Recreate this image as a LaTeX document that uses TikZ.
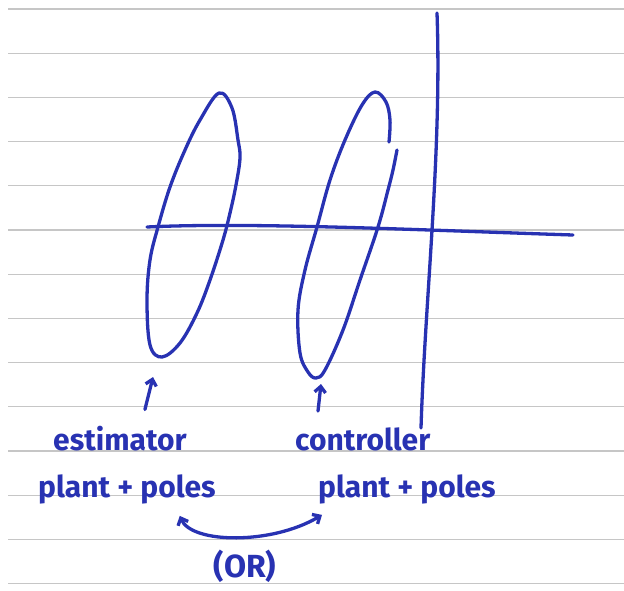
\documentclass[tikz,border=0pt]{standalone}
\usepackage{fontspec}
\setmainfont{Fira Sans}
\usetikzlibrary{positioning,arrows.meta}
\definecolor{pen}{RGB}{40,50,178}
\definecolor{ruling}{RGB}{198,198,198}

\begin{document}
\begin{tikzpicture}[
  x=1pt,y=-1pt,
  ink/.style={draw=pen,line width=3.3pt,line cap=round,line join=round},
  arr/.style={ink,-{Straight Barb[length=6pt,width=11pt]}},
  twoway/.style={ink,{Straight Barb[length=6pt,width=11pt]}-{Straight Barb[length=6pt,width=11pt]}},
  lbl/.style={text=pen,font=\fontsize{30}{32}\selectfont\bfseries,inner sep=0pt,anchor=base west}
]
\useasboundingbox (0,0) rectangle (624,590);

% ruled paper
\foreach \k in {0,...,13}
  \draw[ruling,line width=1.2pt] (8,{9+44.2*\k}) -- (624,{9+44.2*\k});

% axes
\draw[ink] (147,227) .. controls (250,222) and (420,230) .. (573,235);
\draw[ink] (437,13) .. controls (442,150) and (425,300) .. (421,428);

% estimator pole region
\draw[ink] plot[smooth cycle,tension=0.6] coordinates {(219,93) (232,108) (238,140) (240,158)
  (236,185) (230,213) (223,240) (210,280) (197,313) (180,343) (162,357) (150,345)
  (147,300) (150,260) (158,227) (170,187) (185,150) (200,120)};
% controller pole region
\draw[ink] plot[smooth,tension=0.6] coordinates {(389,142) (390,120) (386,102) (375,92)
  (362,105) (345,140) (330,180) (317,227) (305,270) (298,310) (300,353) (308,372)
  (316,378) (325,370) (343,330) (360,280) (378,227) (388,190) (393,170) (397,150)};

\coordinate (estPole) at (153,377);
\coordinate (ctlPole) at (321,384);

\node[lbl] (estA) at (53,450) {estimator};
\node[lbl] (estB) at (38,497) {plant + poles};
\node[lbl] (ctlA) at (295,450) {controller};
\node[lbl] (ctlB) at (318,497) {plant + poles};
\node[text=pen,font=\fontsize{32}{34}\selectfont\bfseries,inner sep=0pt] (orLbl) at (245,566) {(OR)};

\draw[arr] ([shift={(25,-16)}]estA.north) -- (estPole);
\draw[arr] ([shift={(23,-16)}]ctlA.north west) -- (ctlPole);
\draw[twoway] ([shift={(-36,12)}]estB.south east) .. controls +(12,28) and +(-50,30) .. ([shift={(4,11)}]ctlB.south west);
\end{tikzpicture}
\end{document}
